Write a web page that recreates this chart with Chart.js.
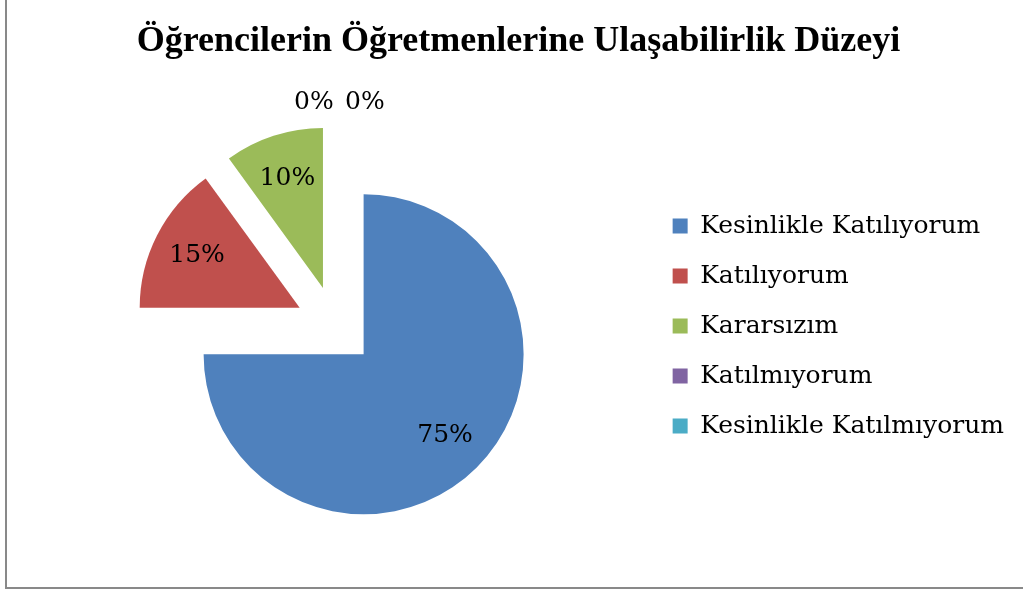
<!DOCTYPE html>
<html>
<head>
<meta charset="utf-8">
<script src="https://cdn.jsdelivr.net/npm/chart.js@4.4.1/dist/chart.umd.min.js"></script>
<style>
  html, body { margin: 0; padding: 0; background: #fff; }
  #wrap { position: relative; width: 1023px; height: 591px; }
  #frame {
    position: absolute; left: 5px; top: 0; width: 1016px; height: 587px;
    border-left: 2px solid #898989; border-bottom: 2px solid #898989;
  }
  canvas { position: absolute; left: 0; top: 0; }
</style>
</head>
<body>
<div id="wrap">
  <div id="frame"></div>
  <canvas id="chart" width="1023" height="591"></canvas>
</div>
<script>
const TITLE = "Öğrencilerin Öğretmenlerine Ulaşabilirlik Düzeyi";
const categories = [
  "Kesinlikle Katılıyorum",
  "Katılıyorum",
  "Kararsızım",
  "Katılmıyorum",
  "Kesinlikle Katılmıyorum",
];
const shares = [75, 15, 10, 0, 0];
const colors = ["#4F81BD", "#C0504D", "#9BBB59", "#8064A2", "#4BACC6"];

// every slice is pulled out a bit, like Excel's "explode"
const EXPLODE = 40;
const BODY_FONT = { family: "'DejaVu Serif', serif", size: 25 };

// draw each arc shifted along its bisector, skip the default dataset draw
const explodePlugin = {
  id: "explode",
  beforeDatasetDraw(chart, args) {
    const ctx = chart.ctx;
    args.meta.data.forEach((arc) => {
      const mid = (arc.startAngle + arc.endAngle) / 2;
      ctx.save();
      ctx.translate(Math.cos(mid) * EXPLODE, Math.sin(mid) * EXPLODE);
      arc.draw(ctx);
      ctx.restore();
    });
    return false;
  },
};

const pctLabels = {
  id: "pctLabels",
  afterDatasetsDraw(chart) {
    const ctx = chart.ctx;
    const meta = chart.getDatasetMeta(0);
    const values = chart.data.datasets[0].data;
    const total = values.reduce((a, b) => a + b, 0);
    const zeros = values.map((v, i) => (v === 0 ? i : -1)).filter((i) => i >= 0);
    ctx.save();
    ctx.font = `${BODY_FONT.size}px ${BODY_FONT.family}`;
    ctx.fillStyle = "#000";
    ctx.textAlign = "center";
    ctx.textBaseline = "middle";
    meta.data.forEach((arc, i) => {
      const mid = (arc.startAngle + arc.endAngle) / 2;
      let r = arc.outerRadius * 0.72;
      let dx = 0;
      if (values[i] === 0) {
        // empty slices get their labels outside, side by side
        r = arc.outerRadius + 24;
        dx = (zeros.indexOf(i) - (zeros.length - 1) / 2) * 51 + 4;
      }
      const x = arc.x + Math.cos(mid) * (EXPLODE + r) + dx;
      const y = arc.y + Math.sin(mid) * (EXPLODE + r);
      ctx.fillText(Math.round((values[i] / total) * 100) + "%", x, y);
    });
    ctx.restore();
  },
};

new Chart(document.getElementById("chart"), {
  type: "pie",
  data: {
    labels: categories,
    datasets: [{
      data: shares,
      backgroundColor: colors,
      borderWidth: 0,
      radius: 160,
      clip: false,
    }],
  },
  options: {
    responsive: false,
    animation: false,
    events: [],
    layout: { padding: { left: 23, right: 9, top: 0, bottom: 37 } },
    plugins: {
      title: {
        display: true,
        text: TITLE,
        color: "#000",
        font: { family: "'Liberation Serif', serif", size: 36, weight: "bold" },
        padding: { top: 20, bottom: 34.8 },
      },
      legend: {
        position: "right",
        fullSize: false,
        align: "center",
        labels: {
          boxWidth: 15,
          boxHeight: 15,
          padding: 25,
          color: "#000",
          font: BODY_FONT,
        },
      },
      tooltip: { enabled: false },
    },
  },
  plugins: [explodePlugin, pctLabels],
});
</script>
</body>
</html>
